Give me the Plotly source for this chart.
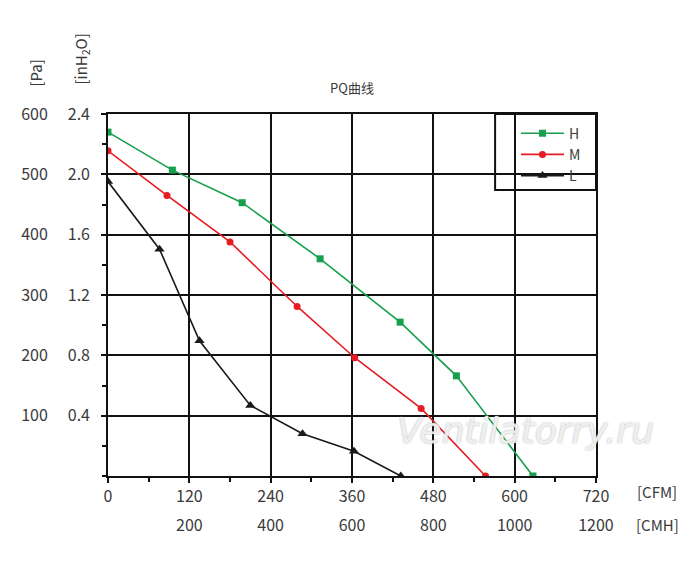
import plotly.graph_objects as go

h_cfm = [0, 95, 198, 313, 431, 514, 627]
h_pa = [570, 507, 453, 360, 255, 166, 0]

m_cfm = [0, 87, 180, 279, 364, 462, 557]
m_pa = [539, 465, 388, 281, 196, 112, 0]

l_cfm = [0, 76, 135, 210, 287, 363, 432]
l_pa = [488, 376, 224, 117, 70, 41, 0]

# Graduations
cfm_ticks = [0, 120, 240, 360, 480, 600, 720]
cmh_ticks = [120, 240, 360, 480, 600, 720]
cmh_labels = ["200", "400", "600", "800", "1000", "1200"]
pa_ticks = [100, 200, 300, 400, 500, 600]
inh2o_ticks = [0.4, 0.8, 1.2, 1.6, 2.0, 2.4]

POLICE = "Noto Sans CJK SC"
GRIS = "#3a3a3a"

# la page html ajoute 8 px de marge autour de la figure
W, H = 700, 562
OX, OY = 8, 8
PL, PR, PT, PB = 107.5, 596, 114, 476   # bord du graphe (pixels écran)

fig = go.Figure()

series = [
    ("H", h_cfm, h_pa, "#16a04c", "square", 7),
    ("M", m_cfm, m_pa, "#e61b23", "circle", 7),
    ("L", l_cfm, l_pa, "#1a1a1a", "triangle-up", 9),
]
for nom, x, y, couleur, symbole, taille in series:
    fig.add_trace(go.Scatter(
        x=x, y=y, name=nom, mode="lines+markers",
        line=dict(color=couleur, width=1.6),
        marker=dict(color=couleur, size=taille, symbol=symbole),
    ))

# axes secondaires (étiquettes inH2O et CMH seulement)
fig.add_trace(go.Scatter(x=[0], y=[0], yaxis="y2", mode="markers", marker=dict(opacity=0),
                         showlegend=False, hoverinfo="skip"))
fig.add_trace(go.Scatter(x=[0], y=[0], xaxis="x2", mode="markers", marker=dict(opacity=0),
                         showlegend=False, hoverinfo="skip"))


def px_x(v):
    return (v - PL) / (PR - PL)


def px_y(v):
    return (PB - v) / (PB - PT)


fig.update_layout(
    width=W, height=H,
    margin=dict(l=PL - OX, r=W - (PR - OX), t=PT - OY, b=H - (PB - OY)),
    plot_bgcolor="white", paper_bgcolor="white",
    font=dict(family=POLICE, size=16, color=GRIS),
    title=dict(text="PQ曲线", x=(352 - OX) / W, xanchor="center", y=1 - (88 - OY) / H, yanchor="middle",
               font=dict(size=13, color=GRIS)),
    showlegend=True,
    legend=dict(x=0.836, y=0.99, xanchor="left", yanchor="top",
                bgcolor="rgba(0,0,0,0)", borderwidth=0, itemwidth=43,
                font=dict(size=14, color=GRIS), tracegroupgap=0),
    xaxis=dict(range=[0, 720], tickvals=cfm_ticks, showgrid=True, gridcolor="#111", gridwidth=2,
               showline=True, linecolor="#111", linewidth=2, mirror=True,
               ticks="outside", ticklen=5, tickcolor="#111", tickwidth=1.5,
               minor=dict(dtick=60, ticks="outside", ticklen=4, tickcolor="#111", showgrid=False),
               ticklabelstandoff=0, zeroline=False),
    xaxis2=dict(range=[0, 720], overlaying="x", side="bottom", anchor="y",
                tickvals=cmh_ticks, ticktext=cmh_labels, showgrid=False, showline=False,
                ticks="", ticklabelstandoff=38, zeroline=False),
    yaxis=dict(range=[0, 600], tickvals=pa_ticks, showgrid=True, gridcolor="#111", gridwidth=2,
               showline=True, linecolor="#111", linewidth=2, mirror=True,
               ticks="outside", ticklen=5, tickcolor="#111", tickwidth=1.5,
               minor=dict(dtick=50, ticks="outside", ticklen=4, tickcolor="#111", showgrid=False),
               ticklabelstandoff=50, zeroline=False),
    yaxis2=dict(range=[0, 2.4], overlaying="y", side="left", anchor="x",
                tickvals=inh2o_ticks, ticktext=[f"{v:.1f}" for v in inh2o_ticks],
                showgrid=False, showline=False, ticks="", ticklabelstandoff=17, zeroline=False),
)

# cadre de la légende
fig.add_shape(type="rect", xref="paper", yref="paper", x0=px_x(495), x1=1.0, y0=px_y(190), y1=1.0,
              line=dict(color="#111", width=2), fillcolor="rgba(0,0,0,0)")

# unités
unites = [
    ("[CFM]", 657, 492, 0), ("[CMH]", 658, 524, 0),
    ("[Pa]", 35, 73, -90), ("[inH<sub>2</sub>O]", 80, 59, -90),
]
for texte, ux, uy, angle in unites:
    fig.add_annotation(text=texte, xref="paper", yref="paper", x=px_x(ux), y=px_y(uy),
                       xanchor="center", yanchor="middle",
                       showarrow=False, textangle=angle, font=dict(size=15, color=GRIS))

# filigrane
fig.add_annotation(text="<i>Ventilatorry.ru</i>", xref="paper", yref="paper",
                   x=px_x(525), y=px_y(430), xanchor="center", yanchor="middle", showarrow=False,
                   font=dict(family="DejaVu Sans", size=36, color="rgba(250,250,250,0.85)",
                             shadow="0px 0px 2px #9a9a9a"))

fig.write_html("out.html")
